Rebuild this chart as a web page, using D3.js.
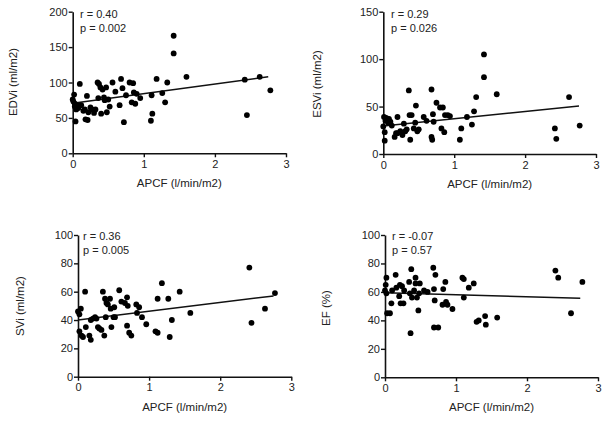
<!DOCTYPE html>
<html><head><meta charset="utf-8">
<script src="https://cdn.jsdelivr.net/npm/d3@7/dist/d3.min.js"></script>
<style>
body{margin:0;background:#fff}
svg{display:block}
text{font-family:"Liberation Sans",Arial,Helvetica,sans-serif;fill:#222}
</style>
</head><body>
<svg id="chart" width="608" height="421"></svg>
<script>
// ---------- data ----------
const xTicks = [0, 1, 2, 3];
const xTitle = "APCF (l/min/m2)";

const edviX = [0.00,0.01,0.02,0.03,0.03,0.04,0.05,0.06,0.08,0.10,0.12,0.15,0.17,0.18,0.20,0.21,0.22,0.25,0.27,0.30,0.32,0.35,0.36,0.37,0.39,0.40,0.42,0.44,0.45,0.47,0.48,0.50,0.52,0.56,0.60,0.66,0.68,0.70,0.72,0.75,0.80,0.83,0.85,0.86,0.88,0.90,0.95,1.10,1.11,1.12,1.18,1.26,1.30,1.33,1.42,1.42,1.60,2.42,2.45,2.63,2.78];
const edviY = [76,73,83,70,66,45,62,68,64,98,68,60,62,48,81,47,58,65,62,57,62,100,78,98,93,56,90,79,75,93,58,76,66,100,87,68,105,92,44,82,100,72,99,86,70,84,78,46,82,56,105,85,72,100,166,141,108,104,54,108,89];
const edviFit = [[0, 70.6], [2.75, 108]];
const edviTicks = [0, 50, 100, 150, 200];

const esviX = [0.00,0.01,0.02,0.02,0.03,0.04,0.06,0.07,0.08,0.10,0.12,0.16,0.18,0.20,0.20,0.24,0.27,0.29,0.31,0.33,0.36,0.37,0.38,0.40,0.43,0.46,0.45,0.48,0.50,0.57,0.61,0.68,0.68,0.69,0.70,0.71,0.75,0.80,0.84,0.82,0.86,0.87,0.91,0.94,1.08,1.10,1.18,1.25,1.28,1.31,1.42,1.42,1.60,2.42,2.44,2.62,2.77];
const esviY = [29,39,23,14,35,38,37,33,37,34,30,18,22,39,22,24,20,32,24,26,67,41,15,41,27,51,33,24,26,39,35,68,18,15,42,34,54,49,49,27,23,41,41,40,15,27,39,31,45,60,105,81,63,27,16,60,30];
const esviFit = [[0, 29.5], [2.76, 50.5]];
const esviTicks = [0, 50, 100, 150];

const sviX = [0.00,0.02,0.04,0.02,0.05,0.07,0.10,0.11,0.16,0.18,0.18,0.21,0.24,0.26,0.28,0.30,0.33,0.35,0.37,0.38,0.39,0.40,0.42,0.45,0.46,0.47,0.50,0.51,0.52,0.58,0.61,0.66,0.69,0.70,0.69,0.72,0.75,0.82,0.86,0.83,0.90,0.96,1.09,1.12,1.12,1.18,1.27,1.29,1.32,1.43,1.58,2.41,2.44,2.63,2.77];
const sviY = [46,44,48,32,29,28,60,35,29,26,40,41,42,41,35,34,33,60,29,55,42,52,51,55,48,35,42,49,42,61,53,52,56,50,36,31,29,51,49,45,42,37,32,31,55,66,55,28,40,60,45,77,38,48,59];
const sviFit = [[0, 40], [2.75, 57]];
const sviTicks = [0, 20, 40, 60, 80, 100];

const efX = [0.00,0.01,0.02,0.02,0.03,0.07,0.09,0.10,0.15,0.16,0.20,0.21,0.22,0.24,0.26,0.27,0.34,0.35,0.36,0.37,0.38,0.41,0.43,0.43,0.45,0.47,0.48,0.49,0.55,0.60,0.68,0.69,0.70,0.71,0.69,0.75,0.81,0.82,0.85,0.86,0.88,0.95,1.09,1.11,1.11,1.18,1.25,1.29,1.32,1.41,1.42,1.58,2.40,2.44,2.62,2.78];
const efY = [61,65,70,59,45,45,52,61,72,63,57,65,52,64,52,61,67,59,31,76,56,61,70,66,56,47,59,66,61,60,77,62,54,72,35,35,51,62,67,53,51,48,70,69,56,63,66,39,40,43,37,42,75,70,45,67];
const efFit = [[0, 59.5], [2.75, 55.5]];
const efTicks = [0, 20, 40, 60, 80, 100];

// ---------- layout ----------
const panels = [
  {xs: edviX, ys: edviY, fit: edviFit, yTicks: edviTicks, yTitle: "EDVi (ml/m2)", r: "r = 0.40", p: "p = 0.002",
   left: 72.7, right: 286, bottom: 153.3, top: 11.7, yTitleX: 14, yTitleY: 82, tx: 80, ty: 18},
  {xs: esviX, ys: esviY, fit: esviFit, yTicks: esviTicks, yTitle: "ESVi (ml/m2)", r: "r = 0.29", p: "p = 0.026",
   left: 383.3, right: 596, bottom: 154, top: 11.7, yTitleX: 318, yTitleY: 84, tx: 391, ty: 18},
  {xs: sviX, ys: sviY, fit: sviFit, yTicks: sviTicks, yTitle: "SVi (ml/m2)", r: "r = 0.36", p: "p = 0.005",
   left: 78, right: 291.3, bottom: 376.7, top: 235, yTitleX: 21, yTitleY: 306, tx: 83, ty: 240},
  {xs: efX, ys: efY, fit: efFit, yTicks: efTicks, yTitle: "EF (%)", r: "r = -0.07", p: "p = 0.57",
   left: 385, right: 598, bottom: 377.3, top: 235, yTitleX: 327, yTitleY: 308, tx: 392, ty: 240}
];

const svg = d3.select("#chart");

panels.forEach(pn => {
  const g = svg.append("g");
  const x = d3.scaleLinear().domain([0, 3]).range([pn.left, pn.right]);
  const yMax = pn.yTicks[pn.yTicks.length - 1];
  const y = d3.scaleLinear().domain([0, yMax]).range([pn.bottom, pn.top]);

  const xa = g.append("g").attr("transform", `translate(0,${pn.bottom})`)
    .call(d3.axisBottom(x).tickValues(xTicks).tickFormat(d3.format("d")).tickSize(4).tickSizeOuter(0));
  const ya = g.append("g").attr("transform", `translate(${pn.left},0)`)
    .call(d3.axisLeft(y).tickValues(pn.yTicks).tickFormat(d3.format("d")).tickSize(4).tickSizeOuter(0));
  [xa, ya].forEach(a => {
    a.select(".domain").attr("stroke", "#111").attr("stroke-width", 1.6);
    a.selectAll(".tick line").attr("stroke", "#111").attr("stroke-width", 1.4);
    a.selectAll(".tick text").attr("font-size", 11).attr("fill", "#222")
      .attr("font-family", '"Liberation Sans",Arial,sans-serif');
  });
  ya.selectAll(".tick text").attr("x", -5);
  xa.selectAll(".tick text").attr("y", 7);

  // axis titles
  g.append("text").attr("x", (pn.left + pn.right) / 2).attr("y", pn.bottom + 34)
    .attr("text-anchor", "middle").attr("font-size", 11.5).text(xTitle);
  g.append("text").attr("transform", `translate(${pn.yTitleX},${pn.yTitleY}) rotate(-90)`)
    .attr("text-anchor", "middle").attr("dominant-baseline", "middle").attr("font-size", 11.5).text(pn.yTitle);

  // stats
  g.append("text").attr("x", pn.tx).attr("y", pn.ty).attr("font-size", 11).text(pn.r);
  g.append("text").attr("x", pn.tx).attr("y", pn.ty + 13.5).attr("font-size", 11).text(pn.p);

  // regression line
  g.append("path").datum(pn.fit)
    .attr("d", d3.line().x(d => x(d[0])).y(d => y(d[1])))
    .attr("stroke", "#111").attr("stroke-width", 1.5).attr("fill", "none");

  // points
  g.append("g").selectAll("circle").data(d3.zip(pn.xs, pn.ys)).join("circle")
    .attr("cx", d => x(d[0])).attr("cy", d => y(d[1])).attr("r", 2.9).attr("fill", "#000");
});
</script>
</body></html>
